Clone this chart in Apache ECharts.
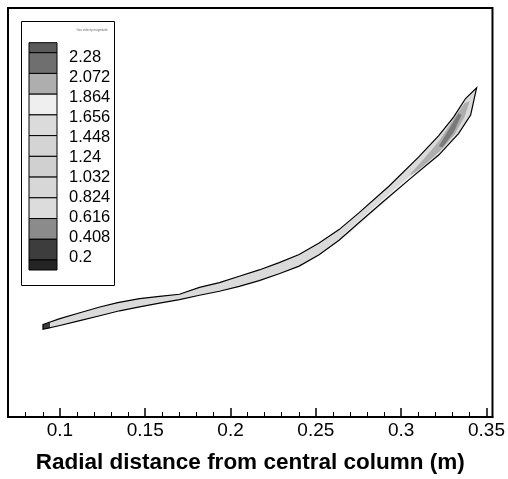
<!DOCTYPE html>
<html>
<head>
<meta charset="utf-8">
<script src="https://cdn.jsdelivr.net/npm/echarts@6/dist/echarts.min.js"></script>
<style>
html, body { margin: 0; padding: 0; background: #fff; }
#chart { width: 508px; height: 479px; }
</style>
</head>
<body>
<div id="chart"></div>
<script>
// contour levels shown in the legend (top to bottom)
var levelLabels = ['2.28', '2.072', '1.864', '1.656', '1.448', '1.24', '1.032', '0.824', '0.616', '0.408', '0.2'];
var levelColors = ['#5a5a5a', '#6f6f6f', '#aeaeae', '#efefef', '#dbdbdb', '#d4d4d4', '#d0d0d0', '#d7d7d7', '#dcdcdc', '#8b8b8b', '#3d3d3d', '#242424'];

var majorTicks = [0.1, 0.15, 0.2, 0.25, 0.3, 0.35];
var minorTicks = [0.07, 0.08, 0.09, 0.11, 0.12, 0.13, 0.14, 0.16, 0.17, 0.18, 0.19, 0.21, 0.22, 0.23, 0.24,
                  0.26, 0.27, 0.28, 0.29, 0.31, 0.32, 0.33, 0.34];

// upper and lower boundary of the band, [r (m), z (m)]
var upperEdge = [
    [0.0901, 0.0555], [0.1000, 0.0590], [0.1117, 0.0625], [0.1234, 0.0660], [0.1339, 0.0686],
    [0.1467, 0.0710], [0.1584, 0.0724], [0.1701, 0.0736], [0.1818, 0.0777], [0.1935, 0.0806],
    [0.2051, 0.0844], [0.2168, 0.0882], [0.2285, 0.0926], [0.2402, 0.0975], [0.2519, 0.1043],
    [0.2636, 0.1124], [0.2752, 0.1224], [0.2928, 0.1384], [0.3103, 0.1560], [0.3220, 0.1688],
    [0.3307, 0.1799], [0.3377, 0.1910], [0.3442, 0.1974]
];
var lowerEdge = [
    [0.0901, 0.0526], [0.1000, 0.0549], [0.1117, 0.0578], [0.1234, 0.0607], [0.1350, 0.0637],
    [0.1467, 0.0660], [0.1584, 0.0683], [0.1701, 0.0704], [0.1818, 0.0730], [0.1935, 0.0754],
    [0.2051, 0.0783], [0.2168, 0.0818], [0.2285, 0.0859], [0.2402, 0.0905], [0.2519, 0.0973],
    [0.2636, 0.1060], [0.2752, 0.1165], [0.2887, 0.1285], [0.3062, 0.1437], [0.3220, 0.1571],
    [0.3336, 0.1700], [0.3407, 0.1811], [0.3442, 0.1974]
];
// inner contour patches
var tipPatch = [[0.0901, 0.0555], [0.0942, 0.0567], [0.0942, 0.0532], [0.0901, 0.0526]];
var lightPatch = [[0.2665, 0.1098], [0.2869, 0.1285], [0.3074, 0.1466], [0.3086, 0.1454], [0.2881, 0.1267], [0.2677, 0.1081]];
var midPatch = [
    [0.3056, 0.1460], [0.3132, 0.1548], [0.3220, 0.1653], [0.3307, 0.1787], [0.3371, 0.1881],
    [0.3401, 0.1893], [0.3371, 0.1799], [0.3313, 0.1694], [0.3231, 0.1600], [0.3132, 0.1507],
    [0.3056, 0.1449]
];
var darkPatch = [[0.3220, 0.1624], [0.3278, 0.1723], [0.3336, 0.1822], [0.3354, 0.1811], [0.3307, 0.1706], [0.3243, 0.1618]];

var outline = upperEdge.concat(lowerEdge.slice().reverse());
var shapes = [
    { points: outline, fill: '#dadada', stroke: null },
    { points: tipPatch, fill: '#3d3d3d', stroke: null },
    { points: lightPatch, fill: '#f0f0f0', stroke: null },
    { points: midPatch, fill: '#aeaeae', stroke: null },
    { points: darkPatch, fill: '#7a7a7a', stroke: null },
    { points: outline, fill: 'none', stroke: '#000' }
];

var dom = document.getElementById('chart');
var myChart = echarts.init(dom);

// colour legend box
var legendItems = [
    { type: 'rect', shape: { x: 21.5, y: 21.5, width: 93, height: 264 }, style: { fill: '#fff', stroke: '#000', lineWidth: 1 } },
    { type: 'text', x: 92, y: 30, style: { text: 'Gas velocity magnitude', fontSize: 3, fill: '#666', align: 'center', verticalAlign: 'middle' } }
];
var bandH = 20.73;
for (var i = 0; i < levelColors.length; i++) {
    var bandTop = i === 0 ? 42.7 : 52.7 + (i - 1) * bandH;
    var bandHeight = (i === 0 || i === levelColors.length - 1) ? 10 : bandH;
    legendItems.push({ type: 'rect', shape: { x: 29, y: bandTop, width: 28, height: bandHeight },
        style: { fill: levelColors[i], stroke: '#000', lineWidth: 1 } });
}
for (var j = 0; j < levelLabels.length; j++) {
    legendItems.push({ type: 'text', x: 69, y: 57 + j * 20.05,
        style: { text: levelLabels[j], fontSize: 16.5, fontFamily: 'Liberation Sans', fill: '#000', verticalAlign: 'middle' } });
}

var option = {
    animation: false,
    grid: { left: 8, top: 8, right: 14, bottom: 51, show: true, borderColor: '#000', borderWidth: 2 },
    xAxis: [
        {
            type: 'value', min: 0.0696, max: 0.3535, position: 'bottom',
            axisLine: { lineStyle: { color: '#000', width: 2 } },
            axisTick: { inside: true, length: 9, customValues: majorTicks, lineStyle: { color: '#000', width: 1.5 } },
            axisLabel: { customValues: majorTicks, fontSize: 19, fontFamily: 'Liberation Sans', color: '#000', margin: 4 },
            splitLine: { show: false },
            name: 'Radial distance from central column (m)',
            nameLocation: 'middle', nameGap: 34,
            nameTextStyle: { fontSize: 22.5, fontWeight: 'bold', fontFamily: 'Liberation Sans', color: '#000' }
        },
        {
            type: 'value', min: 0.0696, max: 0.3535, position: 'bottom',
            axisLine: { show: false },
            axisTick: { inside: true, length: 5, customValues: minorTicks, lineStyle: { color: '#000', width: 1 } },
            axisLabel: { show: false, customValues: minorTicks },
            splitLine: { show: false }
        }
    ],
    yAxis: {
        type: 'value', min: 0, max: 0.2453,
        axisLine: { show: true, lineStyle: { color: '#000', width: 2 } },
        axisTick: { show: false }, axisLabel: { show: false }, splitLine: { show: false }
    },
    graphic: legendItems,
    series: [{
        type: 'custom',
        coordinateSystem: 'cartesian2d',
        xAxisIndex: 0,
        data: shapes.map(function (s, k) { return [s.points[0][0], s.points[0][1], k]; }),
        renderItem: function (params, api) {
            var s = shapes[params.dataIndex];
            var pts = s.points.map(function (p) { return api.coord(p); });
            return {
                type: 'polygon',
                shape: { points: pts },
                style: { fill: s.fill, stroke: s.stroke || 'none', lineWidth: 1.2 }
            };
        }
    }]
};

if (option && typeof option === "object") {
    myChart.setOption(option, true);
}
</script>
</body>
</html>
